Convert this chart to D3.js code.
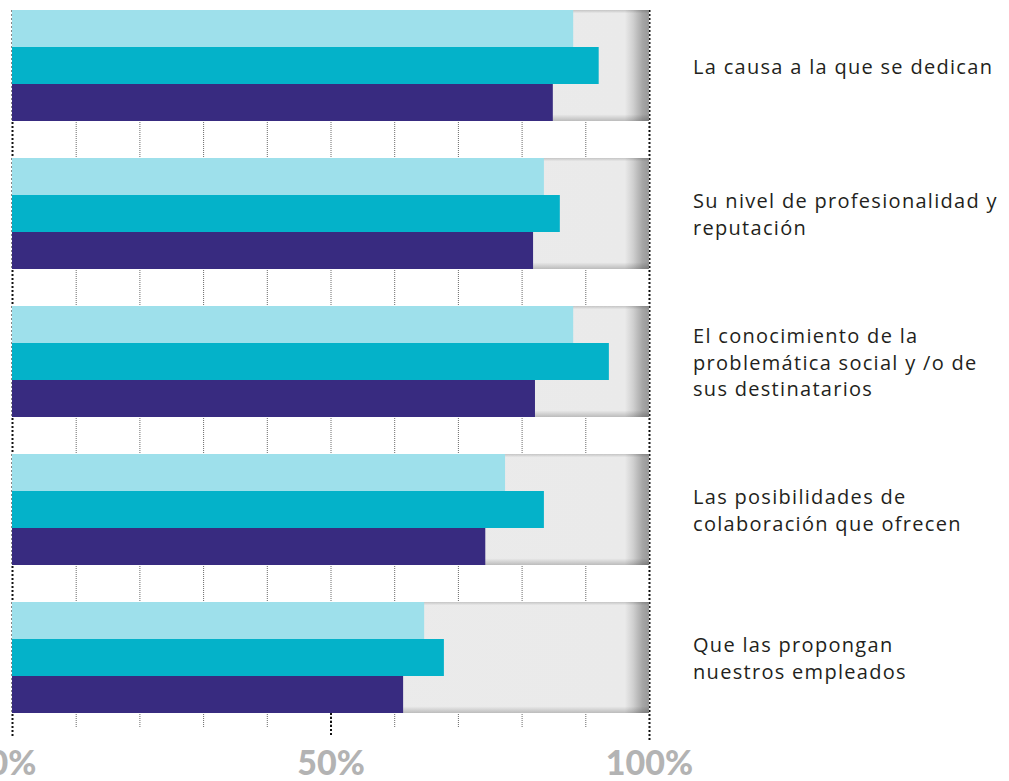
<!DOCTYPE html>
<html>
<head>
<meta charset="utf-8">
<script src="https://cdn.jsdelivr.net/npm/d3@7"></script>
<style>
  html, body { margin: 0; padding: 0; background: #ffffff; }
  svg { display: block; }
</style>
</head>
<body>
<svg id="chart" width="1009" height="781"></svg>
<script>
// Reasons given for choosing a partner organisation (% of respondents)
const categories = [
  "La causa a la que se dedican",
  "Su nivel de profesionalidad y reputación",
  "El conocimiento de la problemática social y /o de sus destinatarios",
  "Las posibilidades de colaboración que ofrecen",
  "Que las propongan nuestros empleados"
];
const categoryLines = [
  ["La causa a la que se dedican"],
  ["Su nivel de profesionalidad y", "reputación"],
  ["El conocimiento de la", "problemática social y /o de", "sus destinatarios"],
  ["Las posibilidades de", "colaboración que ofrecen"],
  ["Que las propongan", "nuestros empleados"]
];
const seriesNames = ["A", "B", "C"];
const seriesA = [88.1, 83.5, 88.1, 77.4, 64.7];
const seriesB = [92.1, 86.0, 93.7, 83.5, 67.8];
const seriesC = [84.9, 81.8, 82.1, 74.3, 61.4];
const seriesColors = ["#9ee0eb", "#04b2c9", "#382b80"];
const gridTicks = [0, 10, 20, 30, 40, 50, 60, 70, 80, 90, 100];
const axisTicks = [0, 50, 100];

const svg = d3.select("#chart");

const x = d3.scaleLinear().domain([0, 100]).range([12, 649]);
const y = d3.scaleBand().domain(categories).range([10, 713]).paddingInner(0.25).paddingOuter(0);
const ys = d3.scaleBand().domain(seriesNames).range([0, y.bandwidth()]);

const values = [seriesA, seriesB, seriesC];

// gradients for the grey track behind each group
const defs = svg.append("defs");
const hg = defs.append("linearGradient").attr("id", "trackH")
  .attr("gradientUnits", "userSpaceOnUse")
  .attr("x1", x(0)).attr("x2", x(100)).attr("y1", 0).attr("y2", 0);
[[0, "#ececec"], [0.962, "#eaeaea"], [0.975, "#d0d0d0"], [0.99, "#a6a6a6"], [1, "#999999"]]
  .forEach(([o, c]) => hg.append("stop").attr("offset", o).attr("stop-color", c));
const vg = defs.append("linearGradient").attr("id", "trackV")
  .attr("x1", 0).attr("x2", 0).attr("y1", 0).attr("y2", 1);
[[0, 0.16], [0.03, 0.0], [0.94, 0.0], [1, 0.2]]
  .forEach(([o, a]) => vg.append("stop").attr("offset", o).attr("stop-color", "#000").attr("stop-opacity", a));

// vertical grid lines
const grid = svg.append("g");
const gridTop = y.range()[0];
const lastBottom = y.range()[1];
const gridBottom = 728;
const isEdge = d => d === 0 || d === 100;
grid.selectAll("line.minor")
  .data(gridTicks.filter(t => !isEdge(t)))
  .join("line")
  .attr("x1", d => x(d) + 0.5).attr("x2", d => x(d) + 0.5)
  .attr("y1", gridTop).attr("y2", gridBottom)
  .attr("stroke", "#6a6a6a").attr("stroke-width", 1)
  .attr("stroke-dasharray", "1,1");
// the 50% mark continues below the last group as a heavier dotted tick
grid.append("line")
  .attr("x1", x(50) + 0.5).attr("x2", x(50) + 0.5)
  .attr("y1", lastBottom).attr("y2", 736)
  .attr("stroke", "#111").attr("stroke-width", 2)
  .attr("stroke-dasharray", "2,2");
grid.selectAll("line.edge")
  .data(gridTicks.filter(isEdge))
  .join("line")
  .attr("x1", d => x(d) + 0.5).attr("x2", d => x(d) + 0.5)
  .attr("y1", gridTop).attr("y2", d => d === 100 ? 742 : 736)
  .attr("stroke", "#111").attr("stroke-width", 2)
  .attr("stroke-dasharray", "2,2");

// groups
const groups = svg.append("g").selectAll("g")
  .data(categories)
  .join("g")
  .attr("transform", d => `translate(0,${y(d)})`);

groups.append("rect")
  .attr("x", x(0)).attr("width", x(100) - x(0))
  .attr("y", 0).attr("height", y.bandwidth())
  .attr("fill", "url(#trackH)");
groups.append("rect")
  .attr("x", x(0)).attr("width", x(100) - x(0))
  .attr("y", 0).attr("height", y.bandwidth())
  .attr("fill", "url(#trackV)");

groups.each(function(cat, i) {
  d3.select(this).selectAll("rect.bar")
    .data(seriesNames.map((s, k) => ({ s, k, v: values[k][i] })))
    .join("rect")
    .attr("class", "bar")
    .attr("x", x(0))
    .attr("y", d => ys(d.s))
    .attr("width", d => x(d.v) - x(0))
    .attr("height", ys.bandwidth())
    .attr("fill", d => seriesColors[d.k]);
});

// category labels to the right
const lineH = 26.5;
svg.append("g").selectAll("text")
  .data(categories)
  .join("text")
  .attr("x", 693)
  .attr("y", (d, i) => y(d) + y.bandwidth() / 2 + 8 - (categoryLines[i].length - 1) * lineH / 2)
  .attr("font-family", "'Open Sans', sans-serif")
  .attr("font-size", 20)
  .attr("letter-spacing", 1.3)
  .attr("fill", "#231f20")
  .each(function(d, i) {
    d3.select(this).selectAll("tspan")
      .data(categoryLines[i])
      .join("tspan")
      .attr("x", 693)
      .attr("dy", (l, j) => j === 0 ? 0 : lineH)
      .text(l => l);
  });

// percentage axis
const axis = d3.axisBottom(x).tickValues(axisTicks).tickSize(0).tickPadding(0)
  .tickFormat(d => d + "%");
const ax = svg.append("g").attr("transform", "translate(0,775)").call(axis);
ax.select(".domain").remove();
ax.selectAll("text")
  .attr("dy", 0)
  .attr("y", 0)
  .attr("font-family", "Lato, sans-serif")
  .attr("font-weight", 900)
  .attr("font-size", 34)
  .attr("fill", "#b3b3b3");
</script>
</body>
</html>
